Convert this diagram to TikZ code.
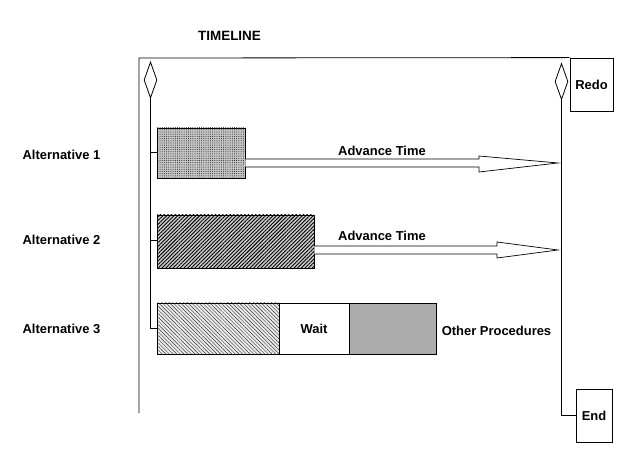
\documentclass[tikz,border=0pt]{standalone}
\usepackage{fontspec}
\setmainfont{Liberation Sans}
\usetikzlibrary{shapes.geometric,patterns,patterns.meta,calc}
\begin{document}
\begin{tikzpicture}[x=1bp,y=-1bp,line width=0.8bp,
  every node/.style={font=\fontsize{13}{15}\selectfont\bfseries},
  lbl/.style={inner sep=0pt},
  dia/.style={draw,diamond,inner sep=0pt,minimum width=13bp,minimum height=36bp,fill=white},
  endbox/.style={draw,rectangle,inner sep=0pt},
  bar/.style={draw,rectangle,inner sep=0pt},
  arr/.style={draw,fill=white,line width=0.7bp}]
\useasboundingbox (0,0) rectangle (624,463);
% title
\node[lbl,font=\fontsize{13.5}{15}\selectfont\bfseries] (title) at (229.5,36) {TIMELINE};
% frame
\node[endbox,minimum width=43bp,minimum height=53bp] (redo) at (591.5,84.5) {Redo};
\coordinate (fbl) at (139,413);
\draw (fbl) -- (139,58) -- (redo.north west);
% diamonds
\node[dia] (dl) at (150.5,80) {};
\node[dia] (dr) at (561.5,81.5) {};
% bars
\node[bar,minimum width=88bp,minimum height=50bp,
  preaction={fill=gray!45},pattern={Dots[distance=2.2pt,radius=0.5pt]},pattern color=gray!20!black] (b1) at (201,153) {};
\node[bar,minimum width=157bp,minimum height=53bp,
  preaction={fill=gray!40},pattern={Lines[angle=45,distance=2.6pt,line width=0.9pt]},pattern color=black] (b2) at (235.5,241.5) {};
\node[bar,minimum width=122bp,minimum height=51bp,
  preaction={fill=gray!15},pattern={Lines[angle=-45,distance=2.6pt,line width=0.45pt]},pattern color=black!80] (b3) at (218,328.5) {};
\node[bar,minimum width=70bp,minimum height=51bp] (wait) at (314,328.5) {Wait};
\node[bar,minimum width=87bp,minimum height=51bp,fill=gray!65] (other) at (392.5,328.5) {};
\node[lbl] (otherl) at (496.5,331) {Other Procedures};
% end box
\node[endbox,minimum width=36bp,minimum height=53bp] (endb) at (594,415.5) {End};
% left labels
\node[lbl] (a1) at (61.5,155) {Alternative 1};
\node[lbl] (a2) at (61.5,240) {Alternative 2};
\node[lbl] (a3) at (61.5,329) {Alternative 3};
% timelines
\draw (dl.south) |- (b3.west);
\draw (dl.south |- 0,152) -- (b1.west |- 0,152);
\draw (dl.south |- 0,240) -- (b2.west |- 0,240);
\draw (dr.south) |- (endb.west);
% arrows
\coordinate (t1) at (558,163);
\coordinate (t2) at (558,250);
\draw[arr] (b1.east |- 0,159) -- (479,159) -- (479,156) -- (t1) -- (479,172) -- (479,167) -- (b1.east |- 0,167);
\draw[arr] (b2.east |- 0,246) -- (497,246) -- (497,242) -- (t2) -- (497,258) -- (497,254) -- (b2.east |- 0,254);
\node[lbl] (adv1) at (382,151) {Advance Time};
\node[lbl] (adv2) at (382,236) {Advance Time};
\end{tikzpicture}
\end{document}
